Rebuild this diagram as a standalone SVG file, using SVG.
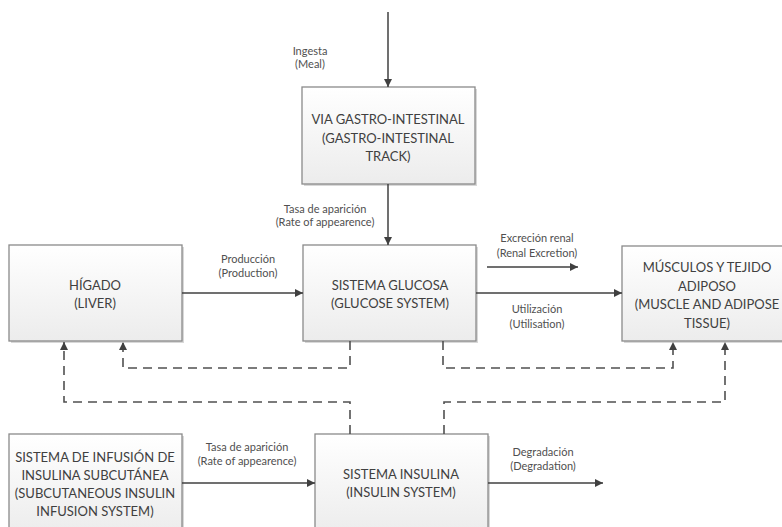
<svg xmlns="http://www.w3.org/2000/svg" width="782" height="527" viewBox="0 0 782 527">
<defs>
<linearGradient id="bg" x1="0" y1="0" x2="0" y2="1">
<stop offset="0" stop-color="#ffffff"/>
<stop offset="1" stop-color="#ececec"/>
</linearGradient>
<marker id="ah" viewBox="0 0 10 10" refX="10" refY="5" markerWidth="8" markerHeight="8" markerUnits="userSpaceOnUse" orient="auto">
<path d="M0,0 L10,5 L0,10 z" fill="#404040"/>
</marker>
<style>
.box{fill:url(#bg);stroke:#8a8a8a;stroke-width:1.3}
.shadow{fill:#d8d8d8}
.bt{font-family:Lato,"Liberation Sans",sans-serif;font-size:13px;fill:#404040;text-anchor:middle}
.lt{font-family:Lato,"Liberation Sans",sans-serif;font-size:11px;fill:#505050;text-anchor:middle}
.sl{fill:none;stroke:#404040;stroke-width:1.5;marker-end:url(#ah)}
.dl{fill:none;stroke:#505050;stroke-width:1.6;stroke-dasharray:9,6;marker-end:url(#ah)}
</style>
</defs>
<rect width="782" height="527" fill="#ffffff"/>

<g id="gi">
<rect class="shadow" x="304" y="89" width="173" height="97"/>
<rect class="box" x="302" y="87" width="173" height="97"/>
<text class="bt" x="388" y="124">VIA GASTRO-INTESTINAL</text>
<text class="bt" x="388" y="142.5">(GASTRO-INTESTINAL</text>
<text class="bt" x="388" y="161">TRACK)</text>
</g>

<g id="liver">
<rect class="shadow" x="11" y="247" width="173" height="96"/>
<rect class="box" x="9" y="245" width="173" height="96"/>
<text class="bt" x="95" y="290">HÍGADO</text>
<text class="bt" x="95" y="307.5">(LIVER)</text>
</g>

<g id="glucose">
<rect class="shadow" x="305" y="247" width="173" height="96"/>
<rect class="box" x="303" y="245" width="173" height="96"/>
<text class="bt" x="390" y="290">SISTEMA GLUCOSA</text>
<text class="bt" x="390" y="307.5">(GLUCOSE SYSTEM)</text>
</g>

<g id="muscle">
<rect class="shadow" x="624" y="248" width="170" height="95"/>
<rect class="box" x="622" y="246" width="170" height="95"/>
<text class="bt" x="707" y="272">MÚSCULOS Y TEJIDO</text>
<text class="bt" x="707" y="290.5">ADIPOSO</text>
<text class="bt" x="707" y="309">(MUSCLE AND ADIPOSE</text>
<text class="bt" x="707" y="327.5">TISSUE)</text>
</g>

<g id="subcutaneous">
<rect class="shadow" x="11" y="436" width="173" height="100"/>
<rect class="box" x="9" y="434" width="173" height="100"/>
<text class="bt" x="95" y="462">SISTEMA DE INFUSIÓN DE</text>
<text class="bt" x="95" y="480">INSULINA SUBCUTÁNEA</text>
<text class="bt" x="95" y="498">(SUBCUTANEOUS INSULIN</text>
<text class="bt" x="95" y="516">INFUSION SYSTEM)</text>
</g>

<g id="insulin">
<rect class="shadow" x="317" y="436" width="173" height="100"/>
<rect class="box" x="315" y="434" width="173" height="100"/>
<text class="bt" x="401" y="479">SISTEMA INSULINA</text>
<text class="bt" x="401" y="497">(INSULIN SYSTEM)</text>
</g>

<g id="connectors">
<path class="sl" d="M388,12 L388,87"/>
<path class="sl" d="M388,184 L388,245"/>
<path class="sl" d="M182,293 L303,293"/>
<path class="sl" d="M476,293 L622,293"/>
<path class="sl" d="M487,267 L578,267"/>
<path class="sl" d="M182,483 L315,483"/>
<path class="sl" d="M488,483 L603,483"/>
<path class="dl" d="M350,341 L350,368 L123,368 L123,342"/>
<path class="dl" d="M443,341 L443,368 L673,368 L673,342"/>
<path class="dl" d="M350,434 L350,402 L64,402 L64,342"/>
<path class="dl" d="M444,434 L444,402 L725,402 L725,342"/>
</g>

<g id="labels">
<text class="lt" x="310" y="55">Ingesta</text>
<text class="lt" x="310" y="68">(Meal)</text>
<text class="lt" x="325" y="213">Tasa de aparición</text>
<text class="lt" x="325" y="226">(Rate of appearence)</text>
<text class="lt" x="248" y="263">Producción</text>
<text class="lt" x="248" y="277">(Production)</text>
<text class="lt" x="537" y="242">Excreción renal</text>
<text class="lt" x="537" y="257">(Renal Excretion)</text>
<text class="lt" x="537" y="313">Utilización</text>
<text class="lt" x="537" y="328">(Utilisation)</text>
<text class="lt" x="247" y="451">Tasa de aparición</text>
<text class="lt" x="247" y="465">(Rate of appearence)</text>
<text class="lt" x="543" y="456">Degradación</text>
<text class="lt" x="543" y="470">(Degradation)</text>
</g>
</svg>
